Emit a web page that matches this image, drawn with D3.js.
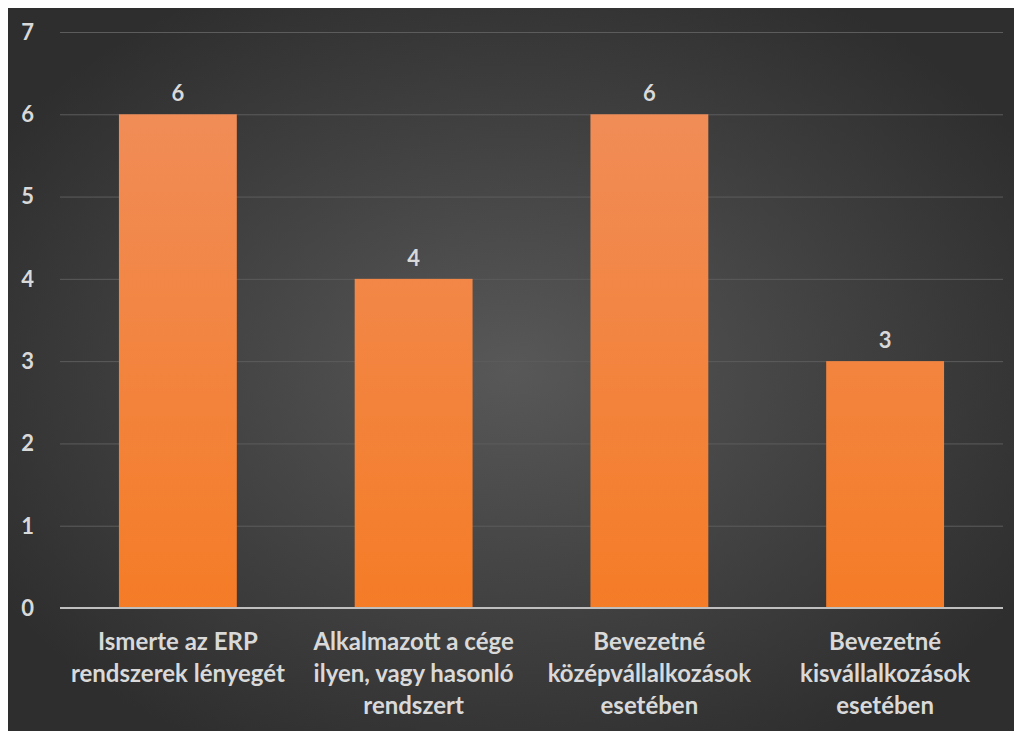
<!DOCTYPE html>
<html>
<head>
<meta charset="utf-8">
<script src="https://cdn.jsdelivr.net/npm/d3@7"></script>
<style>
	body { margin: 0; background: #fff; }
	svg { display: block; }
	text { font-family: Lato, "Open Sans", sans-serif; font-weight: bold; fill: #d9d9d9; }
</style>
</head>
<body>
<svg id="chart" width="1014" height="731"></svg>
<script>
var categories = [
	["Ismerte az ERP", "rendszerek lényegét"],
	["Alkalmazott a cége", "ilyen, vagy hasonló", "rendszert"],
	["Bevezetné", "középvállalkozások", "esetében"],
	["Bevezetné", "kisvállalkozások", "esetében"]
];
var values = [6, 4, 6, 3];
var yTicks = [0, 1, 2, 3, 4, 5, 6, 7];

var svg = d3.select("#chart");
var defs = svg.append("defs");

var bg = defs.append("radialGradient")
	.attr("id", "bg")
	.attr("cx", "50%").attr("cy", "50%").attr("r", "60%");
bg.append("stop").attr("offset", "0%").attr("stop-color", "#585858");
bg.append("stop").attr("offset", "100%").attr("stop-color", "#2e2e2e");

var barGrad = defs.append("linearGradient")
	.attr("id", "barGrad")
	.attr("gradientUnits", "userSpaceOnUse")
	.attr("x1", 0).attr("x2", 0).attr("y1", 32).attr("y2", 608);
barGrad.append("stop").attr("offset", "0%").attr("stop-color", "#f08e5c");
barGrad.append("stop").attr("offset", "100%").attr("stop-color", "#f57b24");

svg.append("rect")
	.attr("x", 8).attr("y", 8)
	.attr("width", 1006).attr("height", 723)
	.attr("fill", "url(#bg)");

var margin = {top: 32, left: 60, right: 11, bottom: 123},
	width = 1014 - margin.left - margin.right,
	height = 731 - margin.top - margin.bottom;

var x = d3.scaleBand()
	.domain(d3.range(values.length))
	.range([0, width])
	.paddingInner(0.5)
	.paddingOuter(0.25);
var y = d3.scaleLinear().domain([0, 7]).range([height, 0]);

var g = svg.append("g")
	.attr("transform", "translate(" + margin.left + "," + margin.top + ")");

// gridlines
g.append("g")
	.selectAll("line")
	.data(yTicks.slice(1))
	.enter().append("line")
	.attr("x1", 0).attr("x2", width)
	.attr("y1", function(d) { return y(d) + 0.5; })
	.attr("y2", function(d) { return y(d) + 0.5; })
	.attr("stroke", "#5c5c5c")
	.attr("stroke-width", 1);

// y tick labels
g.append("g")
	.selectAll("text")
	.data(yTicks)
	.enter().append("text")
	.attr("x", -26)
	.attr("y", function(d) { return y(d); })
	.attr("dy", "0.36em")
	.attr("text-anchor", "end")
	.style("font-size", "22px")
	.text(function(d) { return d; });

// bars
g.selectAll(".bar")
	.data(values)
	.enter().append("rect")
	.attr("class", "bar")
	.attr("x", function(d, i) { return x(i); })
	.attr("y", function(d) { return y(d); })
	.attr("width", x.bandwidth())
	.attr("height", function(d) { return height - y(d); })
	.attr("fill", "url(#barGrad)");

// value labels
g.selectAll(".val")
	.data(values)
	.enter().append("text")
	.attr("class", "val")
	.attr("x", function(d, i) { return x(i) + x.bandwidth() / 2; })
	.attr("y", function(d) { return y(d) - 13; })
	.attr("text-anchor", "middle")
	.style("font-size", "22px")
	.text(function(d) { return d; });

// axis line
g.append("line")
	.attr("x1", 0).attr("x2", width)
	.attr("y1", height).attr("y2", height)
	.attr("stroke", "#bfbfbf")
	.attr("stroke-width", 2);

// category labels
var cat = g.selectAll(".cat")
	.data(categories)
	.enter().append("text")
	.attr("class", "cat")
	.attr("text-anchor", "middle")
	.style("font-size", "24px");
cat.selectAll("tspan")
	.data(function(d, i) { return d.map(function(t) { return {t: t, i: i}; }); })
	.enter().append("tspan")
	.attr("x", function(d) { return x(d.i) + x.bandwidth() / 2; })
	.attr("y", function(d, j) { return height + 42 + j * 32; })
	.text(function(d) { return d.t; });
</script>
</body>
</html>
